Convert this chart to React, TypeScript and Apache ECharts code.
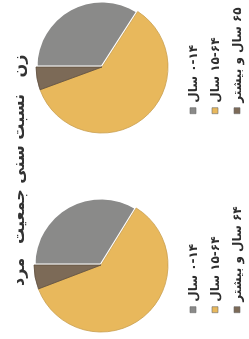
import React, { useEffect, useRef } from "react";
import * as echarts from "echarts";

const womenGroups = ["۰-۱۴ سال", "۱۵-۶۴ سال", "۶۵ سال و بیشتر"];
const menGroups = ["۰-۱۴ سال", "۱۵-۶۴ سال", "۶۴ سال و بیشتر"];
const womenValues = [34.1, 60.3, 5.6];
const menValues = [33.8, 60.4, 5.8];
const titleMain = "نسبت\u00a0سنی\u00a0جمعیت";
const titleWomen = "زن";
const titleMen = "مرد";

const sliceColors = ["#8a8a89", "#e8b85c", "#7c6a57"];
const sliceBorders = ["#ffffff", "#c9a050", "#5e4e3e"];
const sliceBorderWidths = [3, 0.8, 0.8];
const font = "DejaVu Sans";

function buildData(names: string[], values: number[]) {
  return names.map((n, i) => ({
    name: n,
    value: values[i],
    itemStyle: {
      color: sliceColors[i],
      borderColor: sliceBorders[i],
      borderWidth: sliceBorderWidths[i],
    },
  }));
}

function legendFor(left: number, names: string[]) {
  return {
    orient: "vertical",
    left,
    top: 185,
    padding: 0,
    data: names,
    icon: "rect",
    itemWidth: 6,
    itemHeight: 6,
    itemGap: 6,
    selectedMode: false,
    formatter: (name: string) => "\u200F" + name,
    itemStyle: { borderWidth: 0.6, borderColor: "#6a6a6a" },
    textStyle: {
      fontSize: 12,
      fontWeight: "bold",
      lineHeight: 16,
      fontFamily: font,
      color: "#2e2e2e",
    },
  };
}

export default function App() {
  const ref = useRef<HTMLDivElement>(null);
  useEffect(() => {
    if (!ref.current) return;
    const chart = echarts.init(ref.current, undefined, { renderer: "svg" });
    const titleStyle = {
      fontSize: 16,
      fontWeight: "bold",
      fontFamily: font,
      fill: "#333333",
      textAlign: "center",
      textVerticalAlign: "middle",
    };
    chart.setOption({
      animation: false,
      backgroundColor: "#ffffff",
      legend: [legendFor(225, womenGroups), legendFor(26, menGroups)],
      graphic: [
        { type: "text", x: 273, y: 18, style: { ...titleStyle, text: titleWomen } },
        { type: "text", x: 170, y: 18, style: { ...titleStyle, text: titleMain } },
        { type: "text", x: 67, y: 18, style: { ...titleStyle, text: titleMen } },
      ],
      series: [
        {
          type: "pie",
          name: titleWomen,
          center: [272, 102],
          radius: 66,
          startAngle: 90,
          clockwise: true,
          label: { show: false },
          labelLine: { show: false },
          emphasis: { disabled: true },
          data: buildData(womenGroups, womenValues),
        },
        {
          type: "pie",
          name: titleMen,
          center: [74, 101],
          radius: 67,
          startAngle: 90,
          clockwise: true,
          label: { show: false },
          labelLine: { show: false },
          emphasis: { disabled: true },
          data: buildData(menGroups, menValues),
        },
      ],
    });
    return () => chart.dispose();
  }, []);
  return (
    <div
      ref={ref}
      style={{
        position: "fixed",
        left: -45,
        top: 45,
        width: 339,
        height: 249,
        transform: "rotate(-90deg)",
        transformOrigin: "50% 50%",
      }}
    />
  );
}
